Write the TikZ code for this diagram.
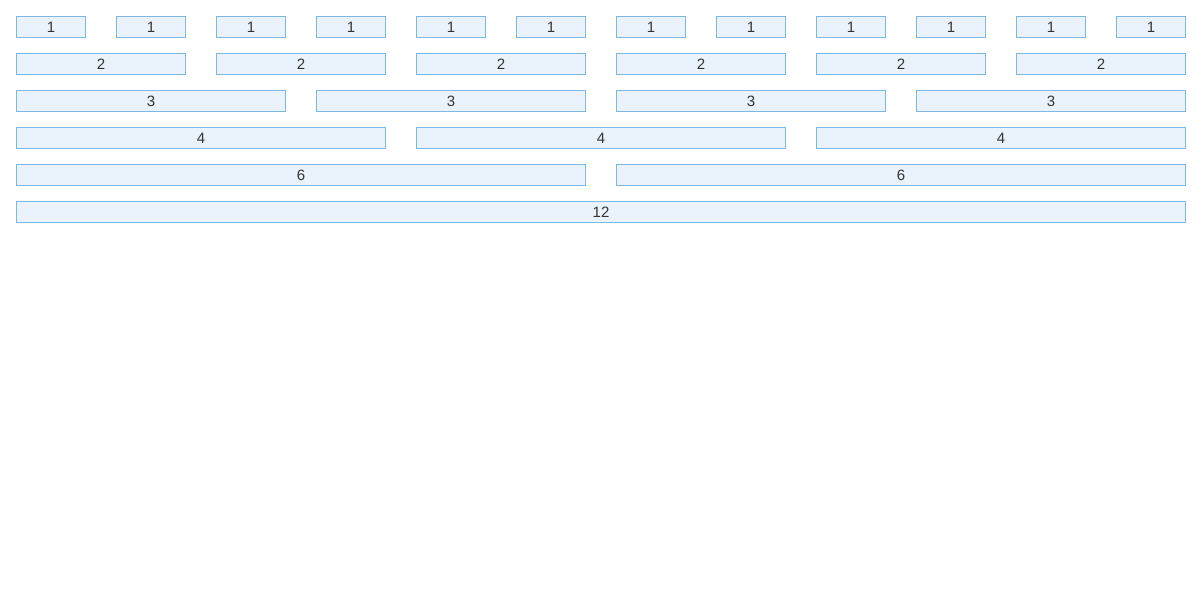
\documentclass[tikz,border=0pt]{standalone}
\usepackage{fontspec}
\setmainfont{Liberation Sans}
\definecolor{boxfill}{HTML}{EAF3FC}
\definecolor{boxline}{HTML}{7DB9E8}
\definecolor{txt}{HTML}{333333}
\begin{document}
\begin{tikzpicture}[x=1pt,y=-1pt,
  cell/.style={draw=boxline,fill=boxfill,line width=1pt,inner sep=0pt,
    minimum height=21pt,text=txt,font=\fontsize{15}{18}\selectfont}]
\useasboundingbox[fill=white] (0,0) rectangle (1201,600);
\foreach \s/\r in {1/0,2/1,3/2,4/3,6/4,12/5}{
  \pgfmathtruncatemacro{\n}{12/\s-1}
  \foreach \i in {0,...,\n}{
    \pgfmathsetmacro{\w}{100*\s-30}
    \pgfmathsetmacro{\cx}{16+100*\i*\s+\w/2}
    \pgfmathsetmacro{\cy}{27+37*\r}
    \pgfmathsetmacro{\mw}{\w-1}
    \node[cell,minimum width=\mw pt] (c\s-\i) at (\cx,\cy) {\s};
  }
}
\end{tikzpicture}
\end{document}
